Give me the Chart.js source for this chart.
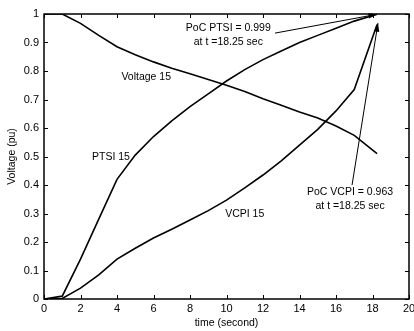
<!DOCTYPE html>
<html>
<head>
<meta charset="utf-8">
<style>
  html, body { margin: 0; padding: 0; background: #fff; }
  #wrap { width: 414px; height: 331px; }
</style>
</head>
<body>
<div id="wrap"><canvas id="pocChart" width="414" height="331"></canvas></div>

<script src="https://cdn.jsdelivr.net/npm/chart.js"></script>
<script>
  // time (s) and per-unit values
  const tVoltage = [0, 1, 2, 3, 4, 5, 6, 7, 8, 9, 10, 11, 12, 13, 14, 15, 16, 17, 18.25];
  const voltage15 = [1, 1, 0.967, 0.925, 0.885, 0.857, 0.832, 0.81, 0.79, 0.77, 0.75, 0.728, 0.703, 0.68, 0.656, 0.635, 0.607, 0.574, 0.51];

  const tPtsi = [0, 1, 2, 3, 4, 5, 6, 7, 8, 9, 10, 11, 12, 13, 14, 15, 16, 17, 18.25];
  const ptsi15 = [0, 0.01, 0.14, 0.28, 0.42, 0.505, 0.57, 0.625, 0.675, 0.72, 0.765, 0.805, 0.84, 0.87, 0.9, 0.925, 0.95, 0.975, 0.999];

  const tVcpi = [0, 1, 2, 3, 4, 5, 6, 7, 8, 9, 10, 11, 12, 13, 14, 15, 16, 17, 18.25];
  const vcpi15 = [0, 0.002, 0.038, 0.085, 0.14, 0.178, 0.214, 0.245, 0.277, 0.31, 0.347, 0.39, 0.435, 0.485, 0.54, 0.595, 0.66, 0.735, 0.963];

  const xTicks = [0, 2, 4, 6, 8, 10, 12, 14, 16, 18, 20];
  const yTicks = [0, 0.1, 0.2, 0.3, 0.4, 0.5, 0.6, 0.7, 0.8, 0.9, 1];

  // labels placed in data coordinates
  const curveLabels = [
    { text: 'Voltage 15', x: 5.6, y: 0.779 },
    { text: 'PTSI 15', x: 3.67, y: 0.498 },
    { text: 'VCPI 15', x: 11.0, y: 0.298 },
    { text: 'PoC PTSI = 0.999', x: 10.1, y: 0.951 },
    { text: 'at t =18.25 sec', x: 10.1, y: 0.902 },
    { text: 'PoC VCPI = 0.963', x: 16.77, y: 0.375 },
    { text: 'at t =18.25 sec', x: 16.77, y: 0.326 }
  ];
  const arrows = [
    { from: [12.66, 0.933], to: [18.25, 0.999] },
    { from: [16.88, 0.40], to: [18.3, 0.968] }
  ];

  const toXY = (xs, ys) => xs.map((x, i) => ({ x: x, y: ys[i] }));
  const FONT = '"Liberation Sans", Arial, sans-serif';

  const matlabBox = {
    id: 'matlabBox',
    afterDraw(chart) {
      const { ctx, chartArea: a, scales: { x, y } } = chart;
      ctx.save();
      ctx.strokeStyle = '#000';
      ctx.lineWidth = 1.5;
      ctx.strokeRect(a.left, a.top, a.right - a.left, a.bottom - a.top);
      ctx.lineWidth = 1;
      ctx.beginPath();
      xTicks.forEach(v => {
        const px = Math.round(x.getPixelForValue(v)) + 0.5;
        ctx.moveTo(px, a.bottom); ctx.lineTo(px, a.bottom - 4);
        ctx.moveTo(px, a.top); ctx.lineTo(px, a.top + 4);
      });
      yTicks.forEach(v => {
        const py = Math.round(y.getPixelForValue(v)) + 0.5;
        ctx.moveTo(a.left, py); ctx.lineTo(a.left + 4, py);
        ctx.moveTo(a.right, py); ctx.lineTo(a.right - 4, py);
      });
      ctx.stroke();

      ctx.fillStyle = '#000';
      ctx.font = '10.5px ' + FONT;
      ctx.textAlign = 'center';
      ctx.textBaseline = 'middle';
      curveLabels.forEach(l => ctx.fillText(l.text, x.getPixelForValue(l.x), y.getPixelForValue(l.y)));

      ctx.lineWidth = 1;
      arrows.forEach(ar => {
        const x0 = x.getPixelForValue(ar.from[0]), y0 = y.getPixelForValue(ar.from[1]);
        const x1 = x.getPixelForValue(ar.to[0]), y1 = y.getPixelForValue(ar.to[1]);
        const ang = Math.atan2(y1 - y0, x1 - x0);
        ctx.beginPath();
        ctx.moveTo(x0, y0); ctx.lineTo(x1, y1);
        ctx.stroke();
        ctx.beginPath();
        ctx.moveTo(x1, y1);
        ctx.lineTo(x1 - 9 * Math.cos(ang - 0.3), y1 - 9 * Math.sin(ang - 0.3));
        ctx.lineTo(x1 - 9 * Math.cos(ang + 0.3), y1 - 9 * Math.sin(ang + 0.3));
        ctx.closePath();
        ctx.fill();
      });
      ctx.restore();
    }
  };

  const line = (label, data) => ({
    label: label,
    data: data,
    borderColor: '#000',
    borderWidth: 1.6,
    pointRadius: 0,
    tension: 0,
    fill: false
  });

  new Chart(document.getElementById('pocChart').getContext('2d'), {
    type: 'line',
    data: {
      datasets: [
        line('Voltage 15', toXY(tVoltage, voltage15)),
        line('PTSI 15', toXY(tPtsi, ptsi15)),
        line('VCPI 15', toXY(tVcpi, vcpi15))
      ]
    },
    options: {
      responsive: false,
      animation: false,
      layout: { padding: { top: 14, right: 5, left: 0, bottom: 0 } },
      scales: {
        x: {
          type: 'linear',
          min: 0,
          max: 20,
          grid: { display: false, drawTicks: false },
          border: { display: false },
          afterBuildTicks: s => { s.ticks = xTicks.map(v => ({ value: v })); },
          afterFit: s => { s.height = 32; s.paddingLeft = 0; s.paddingRight = 0; },
          ticks: { color: '#000', font: { family: FONT, size: 11 }, padding: 3, maxRotation: 0, autoSkip: false },
          title: { display: true, text: 'time (second)', color: '#000', font: { family: FONT, size: 10.5 }, padding: { top: 0, bottom: 2 } }
        },
        y: {
          min: 0,
          max: 1,
          grid: { display: false, drawTicks: false },
          border: { display: false },
          afterBuildTicks: s => { s.ticks = yTicks.map(v => ({ value: v })); },
          afterFit: s => { s.width = 44; s.paddingTop = 0; s.paddingBottom = 0; },
          ticks: { color: '#000', font: { family: FONT, size: 11 }, padding: 5, autoSkip: false,
                   callback: v => String(Math.round(v * 10) / 10) },
          title: { display: true, text: 'Voltage (pu)', color: '#000', font: { family: FONT, size: 10.5 }, padding: { top: 6, bottom: 0 } }
        }
      },
      plugins: {
        legend: { display: false },
        tooltip: { enabled: false }
      }
    },
    plugins: [matlabBox]
  });
</script>
</body>
</html>
